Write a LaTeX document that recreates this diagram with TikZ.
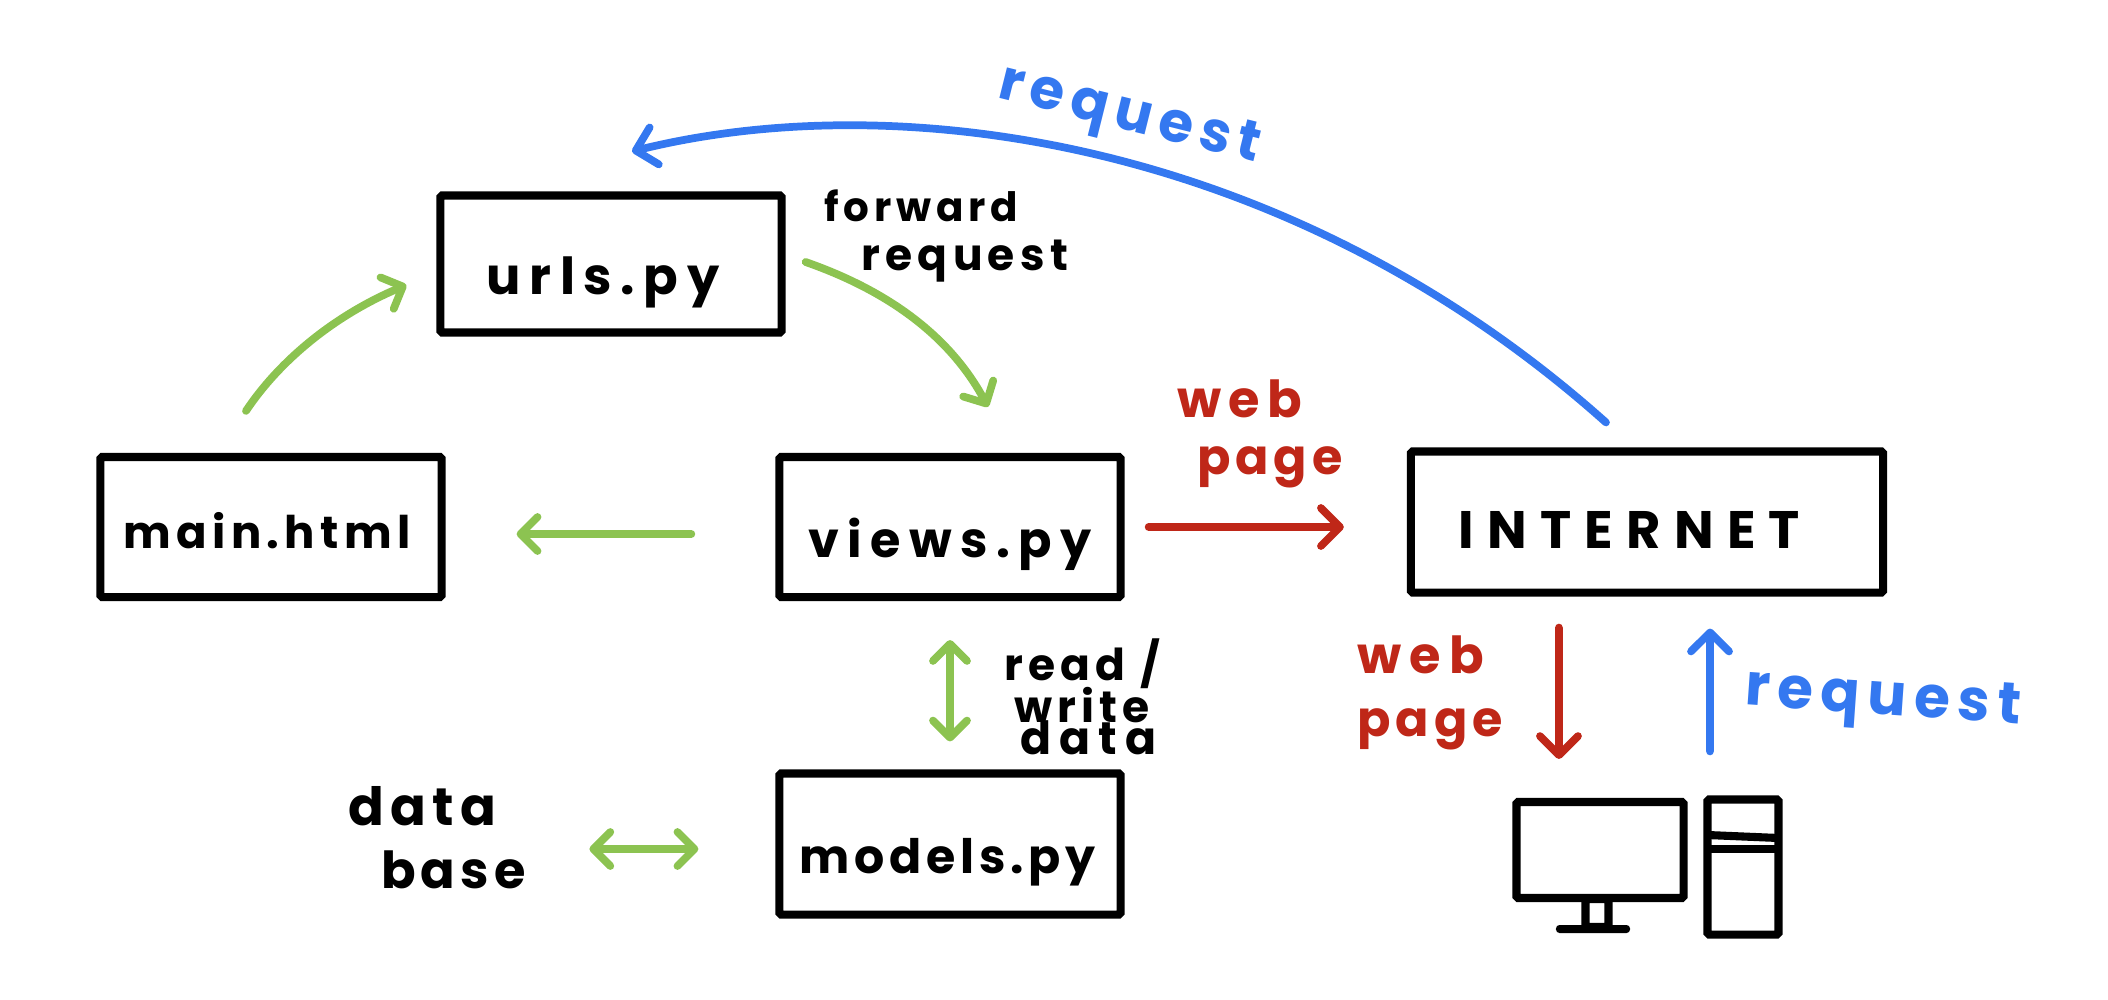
\documentclass[tikz,border=0pt]{standalone}
\usepackage{fontspec}
\newfontfamily\handfont[LetterSpace=12]{Poppins}
\newcommand{\handsize}[2]{\fontsize{#1}{15}\selectfont\addfontfeature{LetterSpace=#2}}
\usetikzlibrary{arrows.meta,positioning,calc}

\definecolor{reqblue}{HTML}{3478F0}
\definecolor{flowgreen}{HTML}{8CC351}
\definecolor{pagered}{HTML}{BF2718}

\tikzset{
  filebox/.style={draw=black,line width=2.3pt,rounded corners=0.5pt,minimum width=3.41cm,minimum height=1.40cm,outer sep=0pt,inner sep=0pt},
  drop/.style={text depth=0pt,text height=#1},
  handtext/.style={font=\handfont\bfseries\fontsize{12.5}{15}\selectfont,inner sep=0pt,align=left},
  flowarrow/.style={draw=flowgreen,line width=2.2pt,line cap=round,-{Straight Barb[length=1.7mm,width=3.4mm,round]}},
  flowboth/.style={draw=flowgreen,line width=2.2pt,line cap=round,{Straight Barb[length=1.7mm,width=3.4mm,round]}-{Straight Barb[length=1.7mm,width=3.4mm,round]}},
  reqarrow/.style={draw=reqblue,line width=2.2pt,line cap=round,-{Straight Barb[length=1.9mm,width=3.8mm,round]}},
  pagearrow/.style={draw=pagered,line width=2.2pt,line cap=round,-{Straight Barb[length=1.9mm,width=3.8mm,round]}},
  pcpart/.style={draw=black,line width=2.3pt,rounded corners=0.5pt,outer sep=0pt,inner sep=0pt}
}

\begin{document}
\begin{tikzpicture}[x=0.01cm,y=-0.01cm]
  \useasboundingbox (0,0) rectangle (2108,1000);

  % boxes
  \node[filebox,minimum height=1.37cm,handtext,drop=0.6cm] (urls) at (611,264) {\hspace{-0.16cm}\handsize{14.5}{17}urls.py};
  \node[filebox,handtext,drop=0.42cm] (main) at (271,527) {\hspace{-0.08cm}\handsize{12.8}{12}main.html};
  \node[filebox,handtext,drop=0.6cm] (views) at (950,527) {\handsize{14}{17}views.py};
  \node[filebox,minimum height=1.41cm,handtext,drop=0.58cm] (models) at (950,844) {\hspace{-0.05cm}\handsize{13.5}{10}models.py};
  \node[filebox,minimum width=4.72cm,minimum height=1.41cm,handtext,drop=0.52cm] (internet) at (1647,522)
    {\hspace{-0.35cm}\handsize{15}{25}INTERNET};

  % computer
  \node[pcpart,minimum width=1.67cm,minimum height=0.96cm] (monitor) at (1600,850) {};
  \node[pcpart,minimum width=0.71cm,minimum height=1.35cm] (tower) at (1743,867) {};
  \node[pcpart,minimum width=0.23cm,minimum height=0.28cm] (stand) at (1597,913) {};
  \node[fill=black,rounded corners=1pt,minimum width=0.74cm,minimum height=0.08cm,inner sep=0pt] (foot) at (1593,929) {};
  \draw[line width=2.3pt] (tower.west |- 0,835) -- (tower.east |- 0,838);
  \draw[line width=2.3pt] (tower.west |- 0,849) -- (tower.east |- 0,849);

  % labels
  \node[handtext] (forward) at (946,236) {\handsize{11.5}{12}forward\\[-1pt]\hspace{0.85em}request};
  \node[handtext,text=pagered] (webtop) at (1260,434) {\handsize{14.5}{14}web\\[1pt]\hspace{0.45em}\handsize{14}{10}page};
  \node[handtext,text=pagered] (webbot) at (1430,693) {\handsize{14.5}{16}web\\[3pt]\handsize{14}{10}page};
  \node[handtext,align=center] (readwrite) at (1082,697) {\handsize{12.5}{12}read /\\[-3pt]write\\[-6pt]\hspace{0.3em}\handsize{13}{18}data};
  \node[handtext] (dbase) at (437,838) {\handsize{15}{12}data\\[3pt]\hspace{0.75em}\handsize{14.5}{10}base};
  \node[handtext,text=reqblue,rotate=-4] (reqlow) at (1883,702) {\handsize{16.5}{13}request};
  \node[handtext,text=reqblue,rotate=-14] (reqtop) at (1129,118) {\handsize{16}{13}request};

  % blue
  \draw[reqarrow] ([xshift=-0.41cm,yshift=0.29cm]internet.north)
    .. controls (1290,140) and (900,85) .. ([xshift=0.21cm,yshift=0.44cm]urls.north);
  \draw[reqarrow,shorten <=0.48cm,shorten >=0.36cm] ([xshift=-0.33cm]tower.north) -- ([xshift=0.63cm]internet.south);

  % red
  \draw[pagearrow,shorten <=0.28cm,shorten >=0.67cm] (views.east) -- (internet.west |- views.east);
  \draw[pagearrow,shorten <=0.35cm,shorten >=0.43cm] ([xshift=-0.88cm]internet.south) -- ([xshift=-0.41cm]monitor.north);

  % green
  \draw[flowarrow] ([xshift=0.24cm,yshift=0.02cm]urls.east) .. controls (900,295) and (955,345) .. ([xshift=0.38cm,yshift=0.5cm]views.north);
  \draw[flowarrow] ([xshift=-0.25cm,yshift=0.46cm]main.north) .. controls (280,360) and (335,315) .. ([xshift=-0.34cm,yshift=-0.21cm]urls.west);
  \draw[flowarrow,shorten <=0.88cm,shorten >=0.75cm] (views.west |- 0,534) -- (main.east |- 0,534);
  \draw[flowboth,shorten <=0.43cm,shorten >=0.32cm] (views.south) -- (models.north);
  \draw[flowboth,shorten <=0.63cm,shorten >=0.81cm] (dbase.east |- 0,849) -- (models.west |- 0,849);
\end{tikzpicture}
\end{document}
